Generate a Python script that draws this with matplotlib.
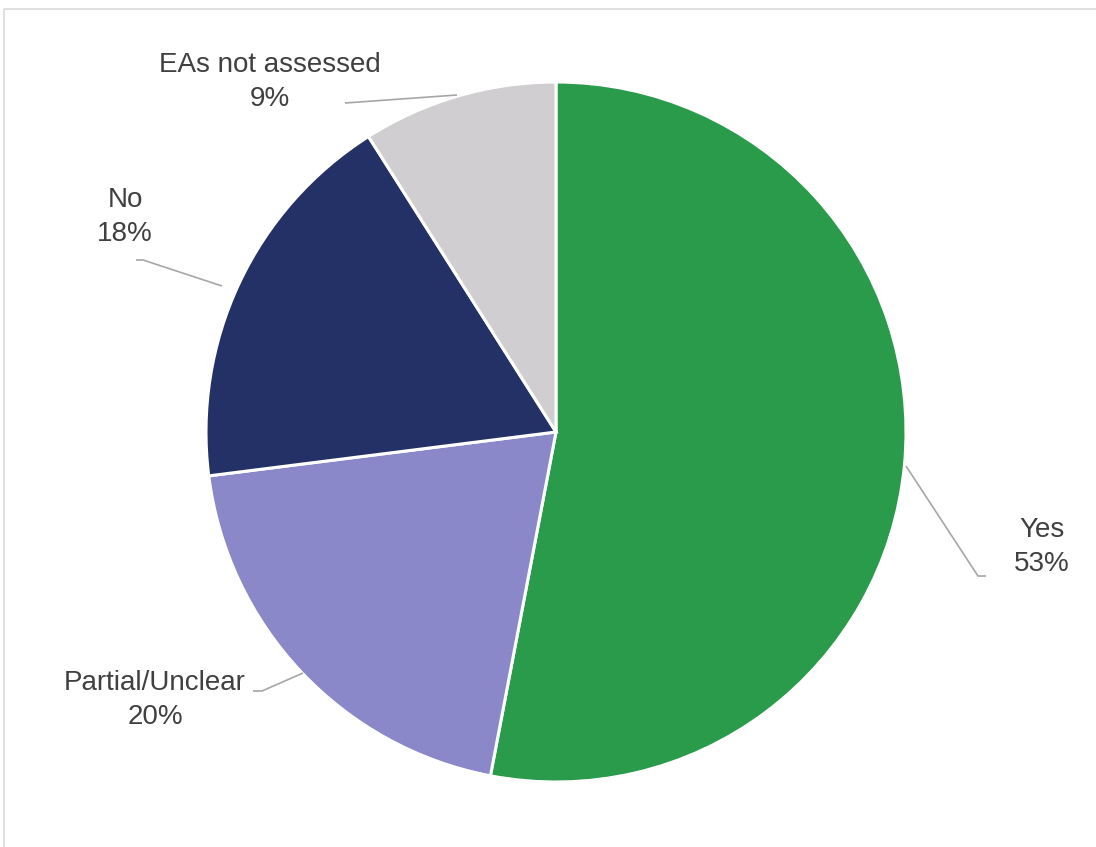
import matplotlib
matplotlib.use('Agg')
import matplotlib.pyplot as plt
from matplotlib.patches import Rectangle

# Shares of assessments
labels = ['Yes', 'Partial/Unclear', 'No', 'EAs not assessed']
shares = [53, 20, 18, 9]
colors = ['#2a9a4b', '#8a88c8', '#243166', '#d0ced0']

# label anchor (pixel coords, y down) and leader line points per slice
label_pos = [(1042, 547), (155, 700), (125, 217), (270, 82)]
leaders = [
    [(906, 466), (978, 576), (986, 576)],
    [(303, 673), (262, 691), (253, 691)],
    [(222, 286), (143, 260), (136, 260)],
    [(457, 95), (345, 103)],
]

W, H = 1096, 847
fig = plt.figure(figsize=(W / 100, H / 100), dpi=100)
ax = fig.add_axes([0, 0, 1, 1])
ax.set_xlim(0, W)
ax.set_ylim(H, 0)
ax.set_aspect('equal')
ax.axis('off')

# chart area frame
ax.add_patch(Rectangle((3.5, 9.5), W + 20, H + 20, fill=False,
                       edgecolor='#d9d9d9', linewidth=1.2))

wedges, _ = ax.pie(shares, colors=colors, startangle=90, counterclock=False,
                   center=(556, 432), radius=350, frame=True,
                   wedgeprops=dict(edgecolor='white', linewidth=2.2))
# pie draws with y up; flip wedges into the y-down axes
ax.set_xlim(0, W)
ax.set_ylim(H, 0)
for w in wedges:
    th1, th2 = w.theta1, w.theta2
    w.set_theta1(-th2)
    w.set_theta2(-th1)

for (x, y), name, val, pts in zip(label_pos, labels, shares, leaders):
    xs = [p[0] for p in pts]
    ys = [p[1] for p in pts]
    ax.plot(xs, ys, color='#a6a6a6', linewidth=1.2, solid_capstyle='butt')
    ax.text(x, y, f'{name}\n{val}%', ha='center', va='center',
            fontsize=20, color='#404040', family='Liberation Sans',
            linespacing=1.38)

fig.savefig('out.png', dpi=100)
